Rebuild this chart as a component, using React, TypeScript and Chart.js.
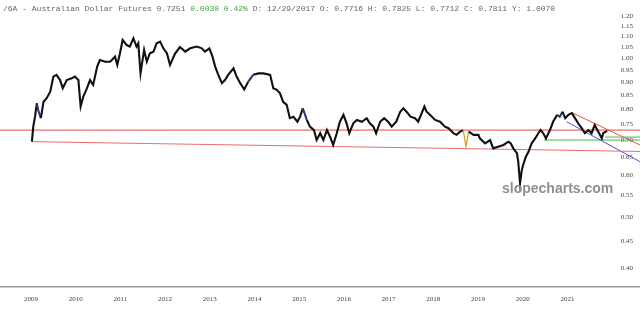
import React, { useEffect, useRef } from "react";
import { Chart, registerables } from "chart.js";

Chart.register(...registerables);

// ---- Axis labels ----
const yearLabels = [2009, 2010, 2011, 2012, 2013, 2014, 2015, 2016, 2017, 2018, 2019, 2020, 2021];
const priceTicks = [0.4, 0.45, 0.5, 0.55, 0.6, 0.65, 0.7, 0.75, 0.8, 0.85, 0.9, 0.95, 1.0, 1.05, 1.1, 1.15, 1.2];
const xRange = [2008.306, 2022.624];
const yRange = [0.368, 1.288];

// ---- Price series (fractional year, price) ----
const dates = [
  2009.02, 2009.05, 2009.09, 2009.13, 2009.16, 2009.22, 2009.28, 2009.35, 2009.43, 2009.50,
  2009.57, 2009.65, 2009.71, 2009.80, 2009.91, 2009.98, 2010.06, 2010.11, 2010.17, 2010.25,
  2010.32, 2010.39, 2010.48, 2010.54, 2010.66, 2010.77, 2010.88, 2010.93, 2010.99, 2011.05,
  2011.14, 2011.21, 2011.29, 2011.36, 2011.40, 2011.45, 2011.53, 2011.59, 2011.66, 2011.74,
  2011.81, 2011.89, 2011.96, 2012.04, 2012.11, 2012.22, 2012.33, 2012.45, 2012.56, 2012.71,
  2012.82, 2012.89, 2012.99, 2013.06, 2013.12, 2013.19, 2013.27, 2013.34, 2013.41, 2013.53,
  2013.60, 2013.68, 2013.77, 2013.86, 2013.97, 2014.09, 2014.20, 2014.35, 2014.42, 2014.50,
  2014.57, 2014.64, 2014.72, 2014.79, 2014.87, 2014.96, 2015.02, 2015.08, 2015.17, 2015.24,
  2015.33, 2015.39, 2015.47, 2015.54, 2015.62, 2015.69, 2015.76, 2015.84, 2015.91, 2015.99,
  2016.06, 2016.12, 2016.21, 2016.29, 2016.40, 2016.51, 2016.58, 2016.66, 2016.72, 2016.81,
  2016.90, 2016.99, 2017.07, 2017.17, 2017.26, 2017.33, 2017.40, 2017.49, 2017.59, 2017.66,
  2017.74, 2017.80, 2017.85, 2017.93, 2018.04, 2018.15, 2018.26, 2018.34, 2018.45, 2018.52,
  2018.60, 2018.67, 2018.73, 2018.79, 2018.90, 2019.01, 2019.04, 2019.16, 2019.27, 2019.34,
  2019.45, 2019.57, 2019.68, 2019.73, 2019.79, 2019.87, 2019.90, 2019.94, 2019.98, 2020.01,
  2020.07, 2020.13, 2020.20, 2020.28, 2020.35, 2020.40, 2020.46, 2020.52, 2020.61, 2020.68,
  2020.77, 2020.83, 2020.89, 2020.95, 2021.02, 2021.10, 2021.17, 2021.24, 2021.32, 2021.39,
  2021.47, 2021.54, 2021.61, 2021.69, 2021.77, 2021.80, 2021.86, 2021.89,
];
const prices = [
  0.694, 0.741, 0.774, 0.821, 0.797, 0.769, 0.826, 0.839, 0.863, 0.922,
  0.929, 0.908, 0.876, 0.908, 0.915, 0.922, 0.908, 0.809, 0.845, 0.876,
  0.908, 0.889, 0.963, 0.991, 0.984, 0.984, 1.006, 0.970, 1.021, 1.082,
  1.058, 1.051, 1.090, 1.051, 1.066, 0.935, 1.036, 0.984, 1.021, 1.028,
  1.066, 1.074, 1.043, 1.021, 0.970, 1.018, 1.049, 1.028, 1.043, 1.051,
  1.043, 1.028, 1.043, 1.006, 0.963, 0.929, 0.896, 0.908, 0.929, 0.956,
  0.922, 0.896, 0.872, 0.902, 0.929, 0.935, 0.935, 0.929, 0.876, 0.870,
  0.857, 0.826, 0.815, 0.769, 0.774, 0.757, 0.774, 0.803, 0.763, 0.741,
  0.730, 0.699, 0.720, 0.699, 0.730, 0.709, 0.684, 0.720, 0.757, 0.780,
  0.752, 0.720, 0.752, 0.763, 0.757, 0.769, 0.752, 0.741, 0.720, 0.757,
  0.769, 0.757, 0.741, 0.757, 0.791, 0.803, 0.791, 0.774, 0.769, 0.757,
  0.786, 0.809, 0.791, 0.780, 0.763, 0.757, 0.741, 0.736, 0.720, 0.715,
  0.725, 0.730, 0.679, 0.725, 0.715, 0.715, 0.704, 0.689, 0.699, 0.674,
  0.679, 0.684, 0.694, 0.689, 0.674, 0.660, 0.636, 0.579, 0.613, 0.627,
  0.650, 0.664, 0.689, 0.704, 0.720, 0.730, 0.720, 0.704, 0.730, 0.757,
  0.780, 0.774, 0.791, 0.769, 0.780, 0.786, 0.769, 0.752, 0.736, 0.720,
  0.730, 0.720, 0.746, 0.725, 0.704, 0.720, 0.725, 0.727,
];

// Segments (by start index) drawn in highlight colours in the reference
const blueSegments = [3, 4, 63, 77, 150, 151];
const orangeSegments = [121, 122];

// ---- Drawn trend lines (x = fractional year, y = price) ----
const redLevelX = [2008.306, 2022.624];
const redLevelY = [0.730, 0.730];
const lowerRedX = [2009.016, 2022.624];
const lowerRedY = [0.694, 0.665];
const channelRedX = [2021.096, 2022.624];
const channelRedY = [0.788, 0.684];
const channelBlueX = [2020.984, 2022.624];
const channelBlueY = [0.757, 0.636];
const greenLowX = [2020.477, 2022.624];
const greenLowY = [0.699, 0.699];
const greenHighX = [2021.84, 2022.624];
const greenHighY = [0.708, 0.708];

const pts = (xs: number[], ys: number[]) => xs.map((x, i) => ({ x, y: ys[i] }));

const lineDs = (xs: number[], ys: number[], color: string, order: number) => ({
  data: pts(xs, ys),
  borderColor: color,
  borderWidth: 1,
  pointRadius: 0,
  tension: 0,
  fill: false,
  order,
});

export default function App() {
  const canvasRef = useRef<HTMLCanvasElement | null>(null);

  useEffect(() => {
    document.body.style.margin = "0";
    const canvas = canvasRef.current;
    if (!canvas) return;
    const chart = new Chart(canvas, {
      type: "line",
      data: {
        datasets: [
          {
            data: pts(dates, prices),
            borderColor: "#111111",
            borderWidth: 2.1,
            pointRadius: 0,
            tension: 0,
            fill: false,
            order: 0,
            segment: {
              borderColor: (ctx: any) =>
                orangeSegments.includes(ctx.p0DataIndex)
                  ? "#c9a227"
                  : blueSegments.includes(ctx.p0DataIndex)
                  ? "#263a7a"
                  : undefined,
              borderWidth: (ctx: any) =>
                orangeSegments.includes(ctx.p0DataIndex) ? 1.2 : undefined,
            },
          },
          lineDs(redLevelX, redLevelY, "rgb(226,72,72)", 1),
          lineDs(lowerRedX, lowerRedY, "rgb(236,110,110)", 1),
          lineDs(channelRedX, channelRedY, "rgb(232,80,80)", 1),
          lineDs(channelBlueX, channelBlueY, "rgb(80,80,215)", 1),
          lineDs(greenLowX, greenLowY, "rgb(60,190,60)", 1),
          lineDs(greenHighX, greenHighY, "rgb(60,190,60)", 1),
        ] as any,
      },
      options: {
        animation: false,
        responsive: false,
        devicePixelRatio: 1,
        layout: { padding: 0 },
        plugins: {
          legend: { display: false },
          tooltip: { enabled: false },
          title: { display: false },
        },
        scales: {
          x: {
            type: "linear",
            position: "bottom",
            min: xRange[0],
            max: xRange[1],
            grid: { display: false, drawTicks: false },
            border: { display: true, color: "#9a9a9a", width: 1.5 },
            ticks: {
              autoSkip: false,
              maxRotation: 0,
              padding: 8,
              color: "#444",
              font: { family: "'Liberation Serif', serif", size: 7 },
              callback: (v: any) => String(v),
            },
            afterBuildTicks: (axis: any) => {
              axis.ticks = yearLabels.map((value) => ({ value }));
            },
            afterFit: (axis: any) => {
              axis.height = 24;
            },
          },
          y: {
            type: "logarithmic",
            position: "right",
            min: yRange[0],
            max: yRange[1],
            grid: { display: false, drawTicks: false },
            border: { display: false },
            ticks: {
              mirror: true,
              padding: -7,
              color: "#444",
              font: { family: "'Liberation Serif', serif", size: 7 },
              callback: (v: any) => Number(v).toFixed(2),
            },
            afterBuildTicks: (axis: any) => {
              axis.ticks = priceTicks.map((value) => ({ value }));
            },
            afterFit: (axis: any) => {
              axis.width = 0;
            },
          },
        },
      } as any,
    });
    return () => chart.destroy();
  }, []);

  return (
    <div style={{ position: "relative", width: 640, height: 311, background: "#fff" }}>
      <canvas ref={canvasRef} width={640} height={311} style={{ display: "block" }} />
      <div
        style={{
          position: "absolute",
          left: 3,
          top: 4,
          fontFamily: "'Liberation Mono', monospace",
          fontSize: 8,
          lineHeight: "10px",
          color: "#666",
          whiteSpace: "pre",
        }}
      >
        {"/6A - Australian Dollar Futures 0.7251 "}
        <span style={{ color: "#3aa53a" }}>{"0.0030 0.42%"}</span>
        {" D: 12/29/2017 O: 0.7716 H: 0.7825 L: 0.7712 C: 0.7811 Y: 1.0070"}
      </div>
      <div
        style={{
          position: "absolute",
          left: 502,
          top: 180,
          fontFamily: "'Liberation Sans', Arial, sans-serif",
          fontWeight: "bold",
          fontSize: 14,
          lineHeight: "16px",
          color: "#8f8f8f",
          whiteSpace: "pre",
        }}
      >
        slopecharts.com
      </div>
    </div>
  );
}
